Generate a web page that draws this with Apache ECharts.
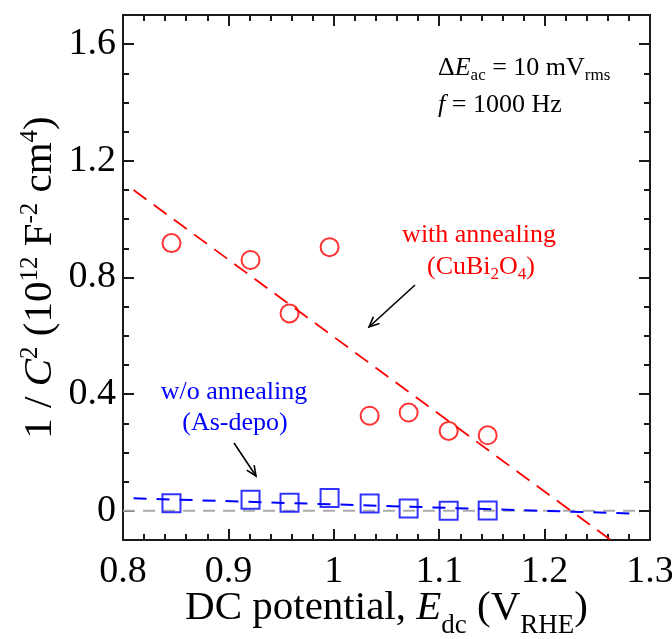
<!DOCTYPE html>
<html>
<head>
<meta charset="utf-8">
<script src="https://cdn.jsdelivr.net/npm/echarts@6/dist/echarts.min.js"></script>
<style>
  html, body { margin: 0; padding: 0; background: #fff; }
  #chart { width: 672px; height: 639px; }
</style>
</head>
<body>
<div id="chart"></div>
<script>
// DC potential (V vs RHE) of each Mott-Schottky measurement
const potential = [0.846, 0.921, 0.958, 0.996, 1.034, 1.071, 1.109, 1.146];
// 1/C^2 (10^12 F^-2 cm^4), annealed CuBi2O4 film
const annealedInvC2 = [0.918, 0.860, 0.677, 0.904, 0.326, 0.337, 0.274, 0.259];
// 1/C^2 (10^12 F^-2 cm^4), as-deposited film
const asDepoInvC2 = [0.026, 0.038, 0.028, 0.044, 0.025, 0.008, 0.000, 0.001];

// linear fits (end points)
const annealedFitX = [0.81, 1.2627];
const annealedFitY = [1.10, -0.10];
const asDepoFitX = [0.81, 1.29];
const asDepoFitY = [0.043, -0.010];
const zeroLineX = [0.80, 1.29];
const zeroLineY = [0, 0];

// axis ticks
const xTicks = [0.8, 0.9, 1, 1.1, 1.2, 1.3];
const yTicks = [0, 0.4, 0.8, 1.2, 1.6];

const FONT = '"Liberation Serif", "Times New Roman", serif';
const INK = '#1a1a1a';
const RED = '#ff0000';
const BLUE = '#0000ff';

const pairs = (xs, ys) => xs.map((x, i) => [x, ys[i]]);
const fmt = v => String(Math.round(v * 10) / 10);

// rich-text style set: normal, italic, subscript, superscript
function richSet(size, color, colorKey, subDrop) {
  const lh = Math.round(size * 1.2);
  const c = {};
  c[colorKey] = color;
  return {
    n:   Object.assign({ fontFamily: FONT, fontSize: size, lineHeight: lh }, c),
    i:   Object.assign({ fontFamily: FONT, fontSize: size, lineHeight: lh, fontStyle: 'italic' }, c),
    sub: Object.assign({ fontFamily: FONT, fontSize: Math.round(size * 0.65), lineHeight: lh,
                         padding: [Math.round(size * (subDrop || 0.6)), 0, 0, 0] }, c),
    sup: Object.assign({ fontFamily: FONT, fontSize: Math.round(size * 0.62), lineHeight: lh,
                         padding: [0, 0, Math.round(size * 0.5), 0] }, c)
  };
}

const tickLine = { color: INK, width: 2 };
const TICK_FONT = 38;
const TITLE_FONT = 41;

function xAxisDef(pos, showLabel) {
  return {
    type: 'value', position: pos, min: 0.8, max: 1.3, interval: 0.1,
    axisLine: { show: true, onZero: false, lineStyle: { color: INK, width: 2 } },
    axisTick: { show: true, inside: true, length: 11, lineStyle: tickLine },
    minorTick: { show: true, splitNumber: 5, length: 6, lineStyle: tickLine },
    splitLine: { show: false },
    minorSplitLine: { show: false },
    axisLabel: showLabel ? {
      show: true, margin: 13, fontFamily: FONT, fontSize: TICK_FONT, color: '#000',
      customValues: xTicks, formatter: fmt
    } : { show: false }
  };
}

function yAxisMajor(pos, showLabel) {
  return {
    type: 'value', position: pos, min: -0.1, max: 1.7,
    axisLine: { show: true, onZero: false, lineStyle: { color: INK, width: 2 } },
    axisTick: { show: true, inside: true, length: 11, lineStyle: tickLine, customValues: yTicks },
    splitLine: { show: false },
    axisLabel: showLabel ? {
      show: true, margin: 7, fontFamily: FONT, fontSize: TICK_FONT, color: '#000',
      customValues: yTicks, formatter: fmt
    } : { show: false }
  };
}

function yAxisMinor(pos) {
  return {
    type: 'value', position: pos, min: -0.1, max: 1.7, interval: 0.1,
    axisLine: { show: false, onZero: false },
    axisTick: { show: true, inside: true, length: 6, lineStyle: tickLine },
    splitLine: { show: false },
    axisLabel: { show: false }
  };
}

const xMain = xAxisDef('bottom', true);
xMain.name = '{n|DC potential, }{i|E}{sub|dc}{n| (V}{sub|RHE}{n|)}';
xMain.nameLocation = 'middle';
xMain.nameGap = 44;
xMain.nameMoveOverlap = false;
xMain.nameTextStyle = { fontFamily: FONT, fontSize: TITLE_FONT, color: '#000', rich: richSet(TITLE_FONT, '#000', 'color', 0.85) };

const yMain = yAxisMajor('left', true);
yMain.name = '{n|1 / }{i|C}{sup|2}{n| (10}{sup|12}{n| F}{sup|-2}{n| cm}{sup|4}{n|)}';
yMain.nameLocation = 'middle';
yMain.nameGap = 58;
yMain.nameMoveOverlap = false;
yMain.nameTextStyle = { fontFamily: FONT, fontSize: TITLE_FONT, color: '#000', rich: richSet(TITLE_FONT, '#000', 'color') };

const option = {
  animation: false,
  backgroundColor: '#fff',
  grid: { left: 123, top: 15, width: 527, height: 525, outerBoundsMode: 'none', containLabel: false },
  xAxis: [xMain, xAxisDef('top', false)],
  yAxis: [yMain, yAxisMinor('left'), yAxisMajor('right', false), yAxisMinor('right')],
  series: [
    {
      type: 'line', name: 'zero', data: pairs(zeroLineX, zeroLineY), symbol: 'none',
      lineStyle: { color: '#aaaaaa', width: 2, type: [12, 8] }, silent: true, z: 1
    },
    {
      type: 'line', name: 'annealed fit', data: pairs(annealedFitX, annealedFitY), symbol: 'none',
      lineStyle: { color: RED, width: 1.8, type: [16, 9] }, silent: true, z: 2
    },
    {
      type: 'line', name: 'as-depo fit', data: pairs(asDepoFitX, asDepoFitY), symbol: 'none',
      lineStyle: { color: BLUE, width: 2, type: [13, 10] }, silent: true, z: 2
    },
    {
      type: 'scatter', name: 'with annealing', data: pairs(potential, annealedInvC2),
      symbol: 'circle', symbolSize: 18,
      itemStyle: { color: 'rgba(0,0,0,0)', borderColor: RED, borderWidth: 2 }, z: 3
    },
    {
      type: 'scatter', name: 'w/o annealing', data: pairs(potential, asDepoInvC2),
      symbol: 'rect', symbolSize: 18,
      itemStyle: { color: 'rgba(0,0,0,0)', borderColor: BLUE, borderWidth: 2 }, z: 3
    }
  ]
};

const chart = echarts.init(document.getElementById('chart'), null, { renderer: 'canvas' });
chart.setOption(option);

// annotation arrows (open V heads)
function arrow(x1, y1, x2, y2) {
  const ang = Math.atan2(y2 - y1, x2 - x1);
  const len = 11, spread = 0.42;
  const h1 = [x2 - len * Math.cos(ang - spread), y2 - len * Math.sin(ang - spread)];
  const h2 = [x2 - len * Math.cos(ang + spread), y2 - len * Math.sin(ang + spread)];
  return [
    { type: 'line', shape: { x1: x1, y1: y1, x2: x2, y2: y2 }, style: { stroke: '#000', lineWidth: 1.6 }, z: 10 },
    { type: 'polyline', shape: { points: [h1, [x2, y2], h2] }, style: { stroke: '#000', lineWidth: 1.6, fill: null }, z: 10 }
  ];
}

function label(text, x, y, size, color, align) {
  return {
    type: 'text', x: x, y: y, z: 10,
    style: {
      text: text, align: align || 'center', verticalAlign: 'middle',
      fontFamily: FONT, fontSize: size, fill: color,
      rich: richSet(size, color, 'fill')
    }
  };
}

chart.setOption({
  graphic: [
    label('{n|Δ}{i|E}{sub|ac}{n| = 10 mV}{sub|rms}', 438, 68, 26, '#000', 'left'),
    label('{i|f}{n| = 1000 Hz}', 438, 105, 26, '#000', 'left'),
    label('{n|with annealing}', 479, 235, 26, RED),
    label('{n|(CuBi}{sub|2}{n|O}{sub|4}{n|)}', 481, 267, 26, RED),
    label('{n|w/o annealing}', 234, 392, 26, BLUE),
    label('{n|(As-depo)}', 235, 423, 26, BLUE)
  ].concat(arrow(415, 285, 369, 327), arrow(234, 443, 256, 476))
});
</script>
</body>
</html>
